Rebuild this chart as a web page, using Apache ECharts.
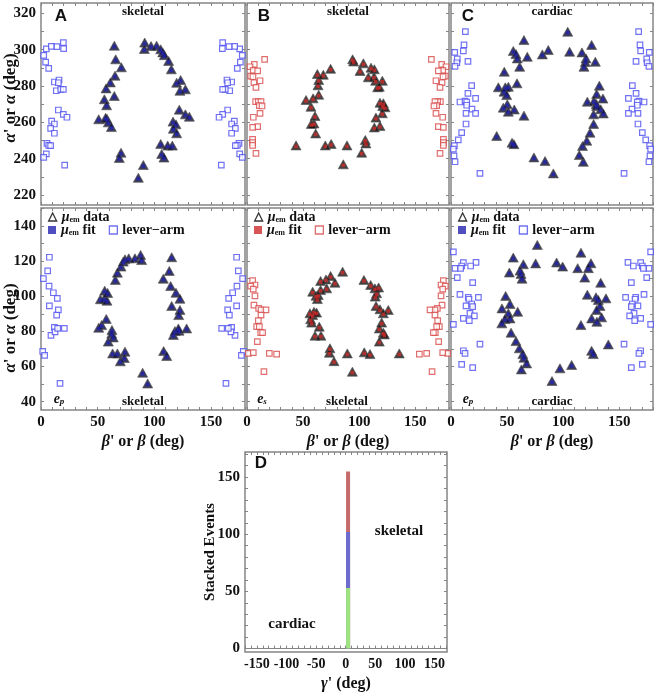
<!DOCTYPE html>
<html><head><meta charset="utf-8">
<script src="https://cdn.jsdelivr.net/npm/echarts@6/dist/echarts.min.js"></script>
<style>html,body{margin:0;padding:0;background:#fff}#c{width:656px;height:693px}</style>
</head><body><div id="c"></div>
<script>
// ---------- tick labels ----------
const betaTickLabels = [0, 50, 100, 150];
const alphaTopTickLabels = [220, 240, 260, 280, 300, 320];
const alphaBotTickLabels = [40, 60, 80, 100, 120, 140];
const gammaTickLabels = [-150, -100, -50, 0, 50, 100, 150];
const eventTickLabels = [0, 50, 100, 150];

// ---------- Panel A (skeletal, e_p) ----------
const aTopData = [[64.7,302.2],[65.9,294.7],[70.9,290.3],[65.3,285.7],[61.2,282],[57.4,278.7],[55.9,272.7],[57.9,269.4],[64.7,274.5],[50.9,261.7],[58.2,262],[59.4,260],[62.1,257.4],[70.6,243.3],[69.1,240.4],[90.3,236.5],[85.9,229.5],[91.5,303.9],[91.2,300.4],[97.1,302],[102,302.2],[105.6,300.2],[107.4,298.5],[108.8,297],[112.6,293.8],[115,289.2],[119.7,281.8],[123.2,283.3],[122.6,277.4],[127.4,278.2],[122,267],[127.4,264.4],[130.9,263.1],[116.5,260.4],[119.1,258.9],[116.8,256.5],[119.7,254],[105.6,248.1],[111.8,247.2],[115.9,247.2],[106.5,242.6],[108.5,240.6],[57,262.5]];
const aTopLeverL = [[2.4,296.9],[4.7,300.4],[4.1,293.2],[6.8,289.7],[9.1,301.8],[14.1,301.7],[19.7,303.9],[20,300.6],[11.8,282.2],[15.9,283.3],[15.3,281.8],[13.5,277.4],[17.4,278.2],[19.7,278.2],[15.3,266.8],[19.7,264.4],[22.9,262.8],[9.4,260.7],[11.8,259.1],[8.5,256.7],[11.8,254],[5.3,248.4],[6.8,247.3],[8.5,247.2],[4.7,242.6],[2.4,240.7],[20.9,236.5]];
const aTopLeverR = [[177.6,296.9],[175.3,300.4],[175.9,293.2],[173.2,289.7],[170.9,301.8],[165.9,301.7],[160.3,303.9],[160,300.6],[168.2,282.2],[164.1,283.3],[164.7,281.8],[166.5,277.4],[162.6,278.2],[160.3,278.2],[164.7,266.8],[160.3,264.4],[157.1,262.8],[170.6,260.7],[168.2,259.1],[171.5,256.7],[168.2,254],[174.7,248.4],[173.2,247.3],[171.5,247.2],[175.3,242.6],[177.6,240.7],[159.1,236.5]];
const aBotData = [[50.9,82.1],[53.5,83.6],[57.6,87.1],[52.4,98.3],[55.9,98.6],[58.2,97.5],[56.2,103.2],[58.8,101.9],[62.6,80.8],[62.4,78.7],[59.4,74.2],[63.8,76.6],[63.2,67.5],[67.4,67.5],[74.1,68.5],[70,63],[73.5,64.9],[65.6,109.3],[67.4,113.4],[70.6,116.9],[72.6,119.7],[74.1,121],[77.4,121.6],[82.9,121.6],[87.9,123.5],[88.8,120.6],[89.7,56.5],[94.1,50.4],[115.3,122.2],[113.2,114.4],[107.9,110],[114.4,105.8],[119.1,102],[122.6,98.6],[115.3,94.5],[122.6,92.2],[121.5,89.3],[116.8,78],[118.2,80.2],[121.8,80.4],[121.2,81.7],[128.5,81.7],[108.2,68.8],[110.9,66]];
const aBotLeverL = [[2.1,110],[5.9,114.4],[7.4,122.2],[7.1,105.8],[7.4,94.5],[10.9,102],[14.4,98.8],[15.3,92.2],[13.8,89.3],[11.8,82.3],[8.8,77.8],[12.4,79.7],[14.7,81.7],[20.6,81.7],[1.5,68.7],[3.2,66.4],[16.8,50.4]];
const aBotLeverR = [[177.9,110],[174.1,114.4],[172.6,122.2],[172.9,105.8],[172.6,94.5],[169.1,102],[165.6,98.8],[164.7,92.2],[166.2,89.3],[168.2,82.3],[171.2,77.8],[167.6,79.7],[165.3,81.7],[159.4,81.7],[178.5,68.7],[176.8,66.4],[163.2,50.4]];

// ---------- Panel B (skeletal, e_s) ----------
const bTopData = [[94.1,294.7],[103.7,292.5],[100.7,288.3],[108.1,284.8],[110.5,290.1],[113.5,289.2],[113.2,285.1],[114.6,282.9],[116.4,279.3],[120.6,282.9],[117.9,279.6],[118.5,270.8],[120.9,269],[123,268.3],[120.6,265],[114.9,262.6],[118.5,258],[113.5,257.2],[105.4,250.3],[106,248.4],[102.2,243.3],[89.1,247.3],[85.8,236.9],[75,248.1],[69.8,247.3],[43.7,247.3],[61.2,253.9],[59.7,259.4],[57.3,259.1],[60.6,263.5],[57,268.6],[52.6,272.3],[58.9,273.2],[63.9,275.2],[62.7,286.6],[63.9,283.3],[63.3,280.4],[68,286.2],[74.5,289.5],[95,293.5],[121.5,270.5]];
const bTopLeverL = [[6.5,291.9],[15.7,294.7],[2.7,290.6],[5.6,288.6],[9.5,288.3],[3.3,285.5],[5.3,285.1],[6.2,281.8],[8,279.3],[11.6,282.9],[7.7,271.4],[10.1,271.4],[12.5,271.4],[11,269.2],[13.4,269],[11.6,264.9],[5.6,262.8],[9.5,257.6],[5,257.2],[5,250.6],[5,248.8],[5,247.3],[8,242.9]];
const bTopLeverR = [[173.5,291.9],[164.3,294.7],[177.3,290.6],[174.4,288.6],[170.5,288.3],[176.7,285.5],[174.7,285.1],[173.8,281.8],[172,279.3],[168.4,282.9],[172.3,271.4],[169.9,271.4],[167.5,271.4],[169,269.2],[166.6,269],[168.4,264.9],[174.4,262.8],[170.5,257.6],[175,257.2],[175,250.6],[175,248.8],[175,247.3],[172,242.9]];
const bBotData = [[85.2,114],[65.6,108.7],[70.4,109.6],[74.5,111.5],[78.4,107.7],[71,104.5],[65.6,103.6],[58.5,102.6],[61.5,100.3],[63.5,100.7],[62.7,98.4],[56.1,90.3],[58.5,89.3],[59.7,91.2],[62,90.7],[56.7,86.9],[57.6,85],[64.4,82.7],[60.6,77.6],[65.9,77.6],[73.9,70.4],[73.4,67.9],[77.5,63.1],[89.4,67.5],[93.9,57.1],[104.5,68.1],[109.6,67.1],[135.7,67.5],[104.2,109.3],[110.2,106.4],[114,104.5],[115.5,101.7],[114.3,99.8],[117.3,105],[115,94.5],[118.5,92.6],[121.5,90.3],[125.9,92.2],[120,85],[117.9,81.7],[121.5,79.3],[122.4,78.3],[117.9,74.2]];
const bBotLeverL = [[5,108.9],[7.1,106.4],[3.3,105.8],[5.6,104],[7.1,100.2],[6.2,95],[10.4,93.1],[12.5,92.2],[16.9,92.2],[12.5,89.3],[10.1,86.1],[8.6,82.7],[11,82.7],[12.2,79.3],[13.9,79.3],[9.2,74.2],[1.2,67.5],[5.6,67.9],[19.9,67.5],[26.4,67.1],[15.1,57.1]];
const bBotLeverR = [[175,108.9],[172.9,106.4],[176.7,105.8],[174.4,104],[172.9,100.2],[173.8,95],[169.6,93.1],[167.5,92.2],[163.1,92.2],[167.5,89.3],[169.9,86.1],[171.4,82.7],[169,82.7],[167.8,79.3],[166.1,79.3],[170.8,74.2],[178.8,67.5],[174.4,67.9],[160.1,67.5],[153.6,67.1],[164.9,57.1]];

// ---------- Panel C (cardiac, e_p) ----------
const cTopData = [[104,309.9],[65,305.3],[55.5,299.3],[57.9,297.6],[59.1,295.2],[68,296.1],[61.2,290.6],[47.5,287.9],[81.4,297.4],[86.7,299.8],[105.7,298.9],[116.7,298.5],[125.3,302.6],[120.3,295.2],[119.7,293.2],[128.6,293.4],[118.5,290.6],[42.2,279.3],[48.4,279.3],[51.1,279.6],[47.3,276.9],[49.6,275],[58.8,281.5],[46.6,268.1],[50.2,269.9],[51.1,265.9],[56.4,267.1],[65,263.7],[40.7,252.5],[54.4,248.8],[56.1,248],[73.9,240.7],[83.8,238.7],[91.2,231.9],[117.9,238.3],[114.3,242],[117.2,247],[121,249.9],[123.9,254.3],[127.1,259.1],[127.1,264.4],[121.5,271.4],[127.4,271.7],[129.5,270.1],[133.4,267.2],[135.7,264.9],[132.2,280.2],[129.8,275.6],[135.4,273.1],[129.8,269]];
const cTopLeverL = [[12.8,309.9],[11.6,302.6],[11,299.3],[3.3,298.5],[5.6,294.9],[5.2,292.8],[3.6,290.8],[15.1,293.6],[18.4,280.2],[15.1,276],[21.9,273.2],[8,271.2],[12.5,271.7],[14,271.2],[14,269.4],[18.7,267.3],[13.4,264.9],[21.9,264.9],[13.4,259.1],[9.5,254.3],[6.5,250.3],[3,247.2],[2.1,245.3],[2.7,241.5],[3.6,238.3],[25.8,231.9]];
const cTopLeverR = [[167.2,309.9],[168.4,302.6],[169,299.3],[176.7,298.5],[174.4,294.9],[174.8,292.8],[176.4,290.8],[164.9,293.6],[161.6,280.2],[164.9,276],[158.1,273.2],[172,271.2],[167.5,271.7],[166,271.2],[166,269.4],[161.3,267.3],[166.6,264.9],[158.1,264.9],[166.6,259.1],[170.5,254.3],[173.5,250.3],[177,247.2],[177.9,245.3],[177.3,241.5],[176.4,238.3],[154.2,231.9]];
const cBotData = [[76.9,129.2],[115.8,124.8],[55.5,122],[64.5,118.2],[61.5,114.6],[62.4,112.7],[63.3,110],[52,113.5],[75.4,118.7],[94.1,119.2],[99.5,116.9],[112.9,116],[122.4,116],[124.7,118.8],[119.2,110.6],[133.4,107.7],[121.5,100.9],[129.2,99.4],[131.3,97.9],[138.1,98.8],[132.8,94.5],[129.8,92.2],[134.2,88],[125.3,87.4],[130,85.5],[115.8,83.6],[140.2,72.6],[125.3,69],[126.8,67.1],[107.5,60.9],[97.1,59],[90,51.8],[48.7,100.2],[45.4,93.1],[52.6,95.6],[51.1,90.3],[48.1,87],[45.3,84.6],[52.6,87.4],[59.4,91.2],[53.5,79.3],[57.9,74.5],[60.9,70.4],[64,67.1],[65,65],[67.4,61.8],[62.7,58.4]];
const cBotLeverL = [[2.1,125.2],[11,119.1],[22.3,119.3],[9.5,117.2],[17.5,117.2],[3.6,115.9],[8.6,115.9],[5.6,110.6],[19.3,107.7],[8,101.1],[15.4,99.4],[24.4,99.4],[16,98.3],[18.4,95.6],[13.4,94.5],[19.3,94.1],[16.9,90.3],[20.8,88.8],[11,87.4],[16.3,86.1],[2.1,84],[25.8,72.8],[11,69],[12.5,67.5],[9.5,61.3],[19.3,59.4]];
const cBotLeverR = [[177.9,125.2],[169,119.1],[157.7,119.3],[170.5,117.2],[162.5,117.2],[176.4,115.9],[171.4,115.9],[174.4,110.6],[160.7,107.7],[172,101.1],[164.6,99.4],[155.6,99.4],[164,98.3],[161.6,95.6],[166.6,94.5],[160.7,94.1],[163.1,90.3],[159.2,88.8],[169,87.4],[163.7,86.1],[177.9,84],[154.2,72.8],[169,69],[167.5,67.5],[170.5,61.3],[160.7,59.4]];

// ---------- Panel D (stacked events) ----------
const stackNames = ['cardiac', 'skeletal (e_p)', 'skeletal (e_s)'];
const stackCounts = [53, 49, 53];
const stackGamma = 4;

// ---------- build ----------
const SERIF = 'Liberation Serif';
const FRAME = '#858585';
const BLUE = '#2323b0', RED = '#cc2a2a', BLUE_L = '#4d4df0', RED_L = '#d84a4a';

const grids = [], xAxes = [], yAxes = [], series = [], legends = [];

function tickVals(min, max, step) {
  const out = [];
  for (let v = Math.ceil(min / step) * step; v <= max + 1e-9; v += step) out.push(v);
  return out;
}
const labelFont = {fontFamily: SERIF, fontWeight: 'bold', fontSize: 15, color: '#111'};

function addGrid(rect, xr, yr) {
  const gi = grids.length;
  grids.push(Object.assign({show: true, borderColor: FRAME, borderWidth: 1.5, backgroundColor: '#fff'}, rect));
  const base = (pos, r, showLab) => ({
    gridIndex: gi, type: 'value', position: pos, min: r.min, max: r.max,
    axisLine: {show: false, onZero: false}, splitLine: {show: false},
    axisTick: {show: true, inside: true, length: 3, customValues: tickVals(r.min, r.max, r.step), lineStyle: {color: FRAME, width: 1}},
    axisLabel: Object.assign({show: showLab, customValues: r.labels, margin: 5}, labelFont, r.labelFont || {})
  });
  const xb = xAxes.length;
  xAxes.push(Object.assign(base('bottom', xr, !!xr.showLabels), xr.extra || {}));
  xAxes.push(base('top', xr, false));
  const yl = yAxes.length;
  yAxes.push(Object.assign(base('left', yr, !!yr.showLabels), yr.extra || {}));
  yAxes.push(base('right', yr, false));
  return {xi: xb, yi: yl};
}

const topY = {min: 214.5, max: 325.7, step: 10, labels: alphaTopTickLabels};
const botY = {min: 35.3, max: 150.2, step: 10, labels: alphaBotTickLabels};
const betaName = '{b|β}{t|\' or }{b|β}{t| (deg)}';
const betaRich = {b: {fontFamily: SERIF, fontWeight: 'bold', fontStyle: 'italic', fontSize: 16, color: '#111'}, t: {fontFamily: SERIF, fontWeight: 'bold', fontSize: 16, color: '#111'}};

function addPanel(key, col, topD, topL, topR, botD, botL, botR, fitColor, leverColor, triColor, showY) {
  const left = [41, 247, 451][col];
  const width = [204, 202, 202][col];
  const xr = (lab) => ({min: 0, max: 180, step: 10, labels: betaTickLabels, showLabels: lab,
    extra: lab ? {name: betaName, nameLocation: 'middle', nameGap: 24, nameTextStyle: {rich: betaRich}} : {}});
  const t = addGrid({left, top: 3, width, height: 202}, xr(false), Object.assign({showLabels: showY}, topY));
  const b = addGrid({left, top: 208, width, height: 202}, xr(true), Object.assign({showLabels: showY}, botY));
  [[t, key + '1', topD, topL, topR], [b, key + '2', botD, botL, botR]].forEach(([ax, nm, d, l, r]) => {
    const common = {type: 'scatter', xAxisIndex: ax.xi, yAxisIndex: ax.yi, silent: true};
    const lever = {symbol: 'rect', symbolSize: 5.5, itemStyle: {color: '#fff', borderColor: leverColor, borderWidth: 1.2}};
    series.push(Object.assign({}, common, lever, {name: nm + ' lever', data: l, z: 2}));
    series.push(Object.assign({}, common, lever, {name: nm + ' lever', data: r, z: 2}));
    series.push(Object.assign({}, common, {name: nm + ' data', data: d, symbol: 'triangle', symbolSize: [10, 9],
      itemStyle: {color: triColor, borderColor: '#555', borderWidth: 0.8}, z: 3}));
    series.push(Object.assign({}, common, {name: nm + ' fit', data: d, symbol: 'rect', symbolSize: 3.6, symbolOffset: [0, 1],
      itemStyle: {color: fitColor}, z: 4}));
  });
  const legText = {fontFamily: SERIF, fontWeight: 'bold', fontSize: 13, color: '#111',
    rich: {m: {fontFamily: SERIF, fontWeight: 'bold', fontStyle: 'italic', fontSize: 14, color: '#111'},
           s: {fontFamily: SERIF, fontWeight: 'bold', fontSize: 8, color: '#111', padding: [6, 0, 0, 0]},
           t: {fontFamily: SERIF, fontWeight: 'bold', fontSize: 14, color: '#111'}}};
  const fmt = (name) => {
    const k = name.split(' ')[1];
    return k === 'lever' ? '{t|lever−arm}' : '{m|μ}{s|em}{t| ' + k + '}';
  };
  legends.push({left: left + 7, top: 210, itemWidth: 8, itemHeight: 8, itemGap: 12, padding: 0, textStyle: legText, formatter: fmt,
    selectedMode: false,
    data: [{name: key + '2 data', icon: 'triangle', itemStyle: {color: 'rgba(0,0,0,0)', borderColor: '#000', borderWidth: 1.3}}]});
  legends.push({left: left + 7, top: 223, itemWidth: 8, itemHeight: 8, itemGap: 13, padding: 0, textStyle: legText, formatter: fmt,
    selectedMode: false,
    data: [{name: key + '2 fit', icon: 'rect', itemStyle: {color: fitColor, borderWidth: 0}},
           {name: key + '2 lever', icon: 'rect', itemStyle: {color: '#fff', borderColor: leverColor, borderWidth: 1.3}}]});
}

addPanel('A', 0, aTopData, aTopLeverL, aTopLeverR, aBotData, aBotLeverL, aBotLeverR, BLUE, BLUE_L, '#0c0c30', true);
addPanel('B', 1, bTopData, bTopLeverL, bTopLeverR, bBotData, bBotLeverL, bBotLeverR, RED, RED_L, '#111111', false);
addPanel('C', 2, cTopData, cTopLeverL, cTopLeverR, cBotData, cBotLeverL, cBotLeverR, BLUE, BLUE_L, '#0c0c30', false);

// Panel D
const d = addGrid({left: 245, top: 452, width: 202, height: 201},
  {min: -170, max: 171, step: 10, labels: gammaTickLabels, showLabels: true, labelFont: {fontSize: 14},
   extra: {name: '{b|γ}{t|\' (deg)}', nameLocation: 'middle', nameGap: 24, nameTextStyle: {rich: betaRich},
     axisLine: {show: true, onZero: true, lineStyle: {color: FRAME, width: 1}}}},
  {min: -3, max: 172, step: 10, labels: eventTickLabels, showLabels: true,
   extra: {name: 'Stacked Events', nameLocation: 'middle', nameGap: 27, nameMoveOverlap: false,
     nameTextStyle: {fontFamily: SERIF, fontWeight: 'bold', fontSize: 15, color: '#111'}}});
const stackColors = ['#9de47f', '#6c6cd0', '#c46a6a'];
// cumulative tops; drawn from the tallest (back) to the shortest (front)
const stackTops = [];
stackCounts.reduce((acc, c, i) => (stackTops[i] = acc + c), 0);
for (let i = stackNames.length - 1; i >= 0; i--) {
  series.push({type: 'bar', name: stackNames[i], xAxisIndex: d.xi, yAxisIndex: d.yi, barWidth: 4, barGap: '-100%',
    data: [[stackGamma, stackTops[i]]], itemStyle: {color: stackColors[i]}, silent: true, z: 2 + (stackNames.length - i)});
}

// ---------- annotations ----------
const txt = (x, y, text, font, extra) => ({type: 'text', x, y, silent: true,
  style: Object.assign({text, align: 'center', verticalAlign: 'middle', font, fill: '#111'}, extra || {})});
const bold12 = 'bold 13px "Liberation Serif"';
const letter = 'bold 17px "Liberation Sans"';
const epRich = (sub) => ({text: '{e|e}{p|' + sub + '}', rich: {
  e: {fontFamily: SERIF, fontWeight: 'bold', fontStyle: 'italic', fontSize: 14, fill: '#111'},
  p: {fontFamily: SERIF, fontWeight: 'bold', fontStyle: 'italic', fontSize: 9, fill: '#111', padding: [6, 0, 0, 0]}}});
const alphaRich = {a: {fontFamily: SERIF, fontWeight: 'bold', fontStyle: 'italic', fontSize: 17, fill: '#111'},
  t: {fontFamily: SERIF, fontWeight: 'bold', fontSize: 17, fill: '#111'}};
const alphaText = '{a|α}{t|\' or }{a|α}{t| (deg)}';
const graphic = [
  txt(61, 16, 'A', letter), txt(143, 12, 'skeletal', bold12),
  txt(264, 16, 'B', letter), txt(348, 12, 'skeletal', bold12),
  txt(468, 16, 'C', letter), txt(552, 12, 'cardiac', bold12),
  txt(143, 402, 'skeletal', bold12), txt(347, 402, 'skeletal', bold12), txt(552, 402, 'cardiac', bold12),
  {type: 'text', x: 59, y: 399, silent: true, style: Object.assign({align: 'center', verticalAlign: 'middle'}, epRich('p'))},
  {type: 'text', x: 262, y: 399, silent: true, style: Object.assign({align: 'center', verticalAlign: 'middle'}, epRich('s'))},
  {type: 'text', x: 468, y: 399, silent: true, style: Object.assign({align: 'center', verticalAlign: 'middle'}, epRich('p'))},
  {type: 'text', x: 11, y: 98, rotation: Math.PI / 2, silent: true, style: {text: alphaText, rich: alphaRich, align: 'center', verticalAlign: 'middle'}},
  {type: 'text', x: 11, y: 328, rotation: Math.PI / 2, silent: true, style: {text: alphaText, rich: alphaRich, align: 'center', verticalAlign: 'middle'}},
  txt(261, 463, 'D', letter),
  txt(399, 531, 'skeletal', 'bold 15px "Liberation Serif"'),
  txt(292, 624, 'cardiac', 'bold 15px "Liberation Serif"')
];

const chart = echarts.init(document.getElementById('c'), null, {renderer: 'canvas'});
chart.setOption({
  animation: false,
  backgroundColor: '#fff',
  grid: grids, xAxis: xAxes, yAxis: yAxes, series, legend: legends, graphic
});
</script></body></html>
